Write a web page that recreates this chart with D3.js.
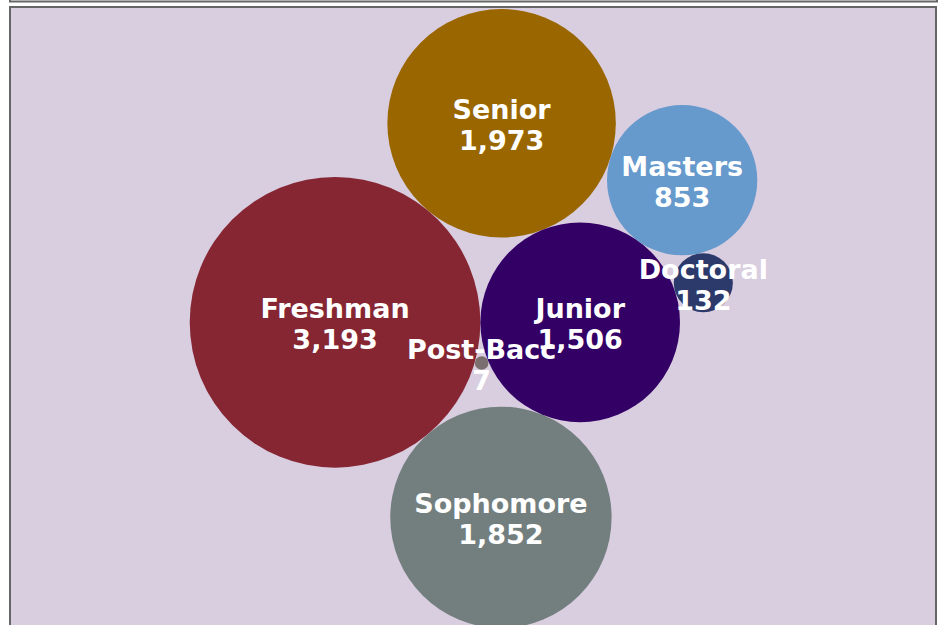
<!DOCTYPE html>
<html>
<head>
<meta charset="utf-8">
<script src="https://cdn.jsdelivr.net/npm/d3@7"></script>
<style>
  body { margin: 0; background: #fff; }
  svg { display: block; }
</style>
</head>
<body>
<div id="chart"></div>
<script>
// enrolment by class level
var levels = ["Freshman", "Senior", "Sophomore", "Junior", "Masters", "Doctoral", "Post-Bacc"];
var counts = [3193, 1973, 1852, 1506, 853, 132, 7];
var colors = ["#862633", "#996600", "#737f7f", "#330066", "#6699cc", "#2b3a6b", "#7a6e6e"];

// packing order: each bubble sits against two that are already placed
// [name, first neighbour, second neighbour, side]
var packing = [
  ["Freshman"],
  ["Junior", "Freshman"],
  ["Senior", "Freshman", "Junior", -1],
  ["Sophomore", "Freshman", "Junior", 1],
  ["Masters", "Junior", "Senior", 1],
  ["Doctoral", "Junior", "Masters", 1],
  ["Post-Bacc", "Freshman", "Junior", 1]
];

var width = 941, height = 625;
var panel = {x: 10, y: 7, w: 927, h: 623};
var inset = 2;

var svg = d3.select("#chart").append("svg")
  .attr("width", width)
  .attr("height", height);

// header box above the panel (only its bottom edge shows)
svg.append("rect")
  .attr("x", panel.x).attr("y", -20)
  .attr("width", panel.w).attr("height", 21.5)
  .attr("fill", "none")
  .attr("stroke", "#666")
  .attr("stroke-width", 2);

svg.append("rect")
  .attr("x", panel.x).attr("y", panel.y)
  .attr("width", panel.w - 1).attr("height", panel.h)
  .attr("fill", "#d9cde0")
  .attr("stroke", "#666")
  .attr("stroke-width", 2);

var data = levels.map(function(d, i) {
  return {name: d, value: counts[i], color: colors[i]};
});
var byName = {};
data.forEach(function(d) { byName[d.name] = d; });

// radius from area, unit scale first, fitted to the panel below
var r = d3.scaleSqrt().domain([0, d3.max(counts)]).range([0, d3.max(counts) ** 0.5]);
data.forEach(function(d) { d.r = r(d.value); });

// put c against a and b
function touch(a, b, c, side) {
  var dx = b.x - a.x, dy = b.y - a.y;
  var d = Math.sqrt(dx * dx + dy * dy);
  var ux = dx / d, uy = dy / d;
  var ra = a.r + c.r, rb = b.r + c.r;
  var along = (d * d + ra * ra - rb * rb) / (2 * d);
  var h = Math.sqrt(Math.max(0, ra * ra - along * along));
  c.x = a.x + along * ux - side * h * uy;
  c.y = a.y + along * uy + side * h * ux;
}

packing.forEach(function(p, i) {
  var c = byName[p[0]];
  if (i == 0) { c.x = 0; c.y = 0; }
  else if (p.length == 2) { var a = byName[p[1]]; c.x = a.x + a.r + c.r; c.y = a.y; }
  else touch(byName[p[1]], byName[p[2]], c, p[3]);
});

// fit the cluster to the panel
var x0 = d3.min(data, d => d.x - d.r), x1 = d3.max(data, d => d.x + d.r);
var y0 = d3.min(data, d => d.y - d.r), y1 = d3.max(data, d => d.y + d.r);
var innerW = panel.w - 2 * inset, innerH = panel.h - 2 * inset;
var k = Math.min(innerW / (x1 - x0), innerH / (y1 - y0));
var x = d3.scaleLinear().domain([(x0 + x1) / 2, (x0 + x1) / 2 + 1]).range([panel.x + panel.w / 2, panel.x + panel.w / 2 + k]);
var y = d3.scaleLinear().domain([(y0 + y1) / 2, (y0 + y1) / 2 + 1]).range([panel.y + panel.h / 2, panel.y + panel.h / 2 + k]);

var g = svg.append("g");

g.selectAll("circle")
  .data(data)
  .enter()
  .append("circle")
  .attr("cx", d => x(d.x))
  .attr("cy", d => y(d.y))
  .attr("r", d => d.r * k)
  .attr("fill", d => d.color);

var fmt = d3.format(",");
var labels = g.selectAll("text")
  .data(data)
  .enter()
  .append("text")
  .attr("text-anchor", "middle")
  .attr("font-family", "DejaVu Sans, Verdana, sans-serif")
  .attr("font-weight", "bold")
  .attr("font-size", 27)
  .attr("fill", "#fff");

labels.append("tspan")
  .attr("x", d => x(d.x))
  .attr("y", d => y(d.y) - 4)
  .text(d => d.name);

labels.append("tspan")
  .attr("x", d => x(d.x))
  .attr("y", d => y(d.y) + 27)
  .text(d => fmt(d.value));
</script>
</body>
</html>
